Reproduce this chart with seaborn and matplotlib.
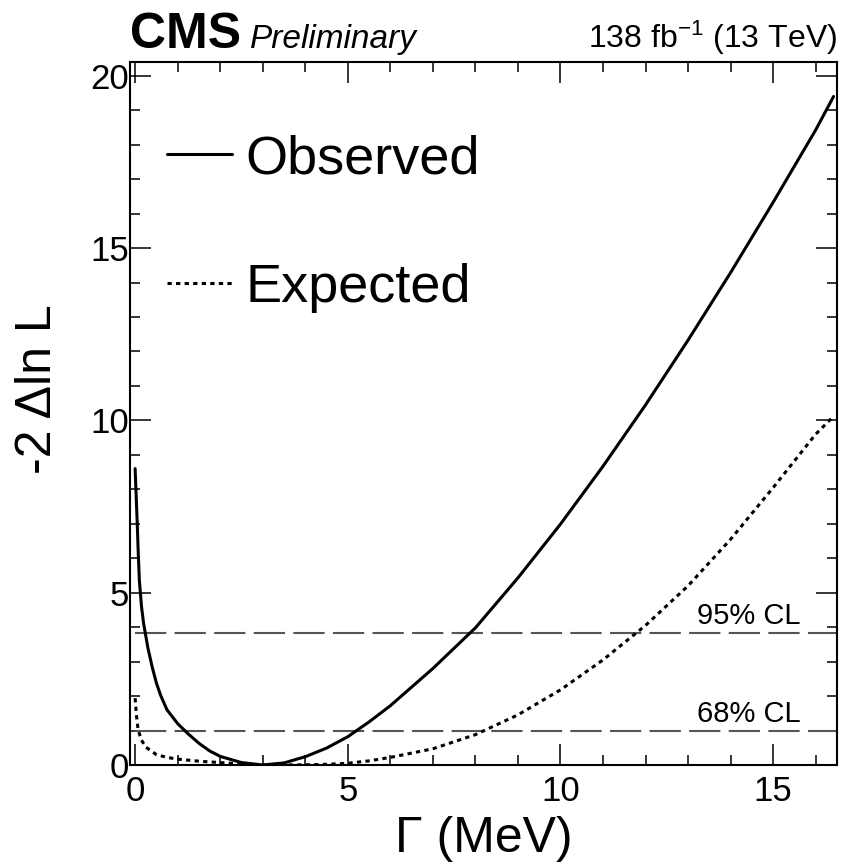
import matplotlib
matplotlib.use("Agg")
import matplotlib.pyplot as plt
import seaborn as sns
import pandas as pd
from matplotlib.ticker import MultipleLocator

# ---- data ----
obs_x = [0.0, 0.025, 0.05, 0.075, 0.1, 0.15, 0.2, 0.3, 0.4, 0.5, 0.6, 0.75, 1.0,
         1.25, 1.5, 1.75, 2.0, 2.5, 3.0, 3.5, 4.0, 4.5, 5.0, 5.5, 6.0, 7.0, 8.0,
         9.0, 10.0, 11.0, 12.0, 13.0, 14.0, 15.0, 16.0, 16.42]
obs_y = [8.6, 7.8, 7.0, 6.1, 5.35, 4.6, 4.1, 3.4, 2.85, 2.38, 2.02, 1.6, 1.2,
         0.9, 0.63, 0.41, 0.25, 0.07, 0.0, 0.06, 0.24, 0.49, 0.82, 1.25, 1.72,
         2.80, 3.98, 5.43, 6.99, 8.67, 10.45, 12.33, 14.29, 16.33, 18.43, 19.4]

exp_x = [0.0, 0.03, 0.07, 0.15, 0.25, 0.5, 0.75, 1.0, 1.5, 2.0, 2.5, 3.0, 3.5, 4.0,
         4.5, 5.0, 5.5, 6.0, 7.0, 8.0, 9.0, 10.0, 11.0, 12.0, 13.0, 14.0, 15.0,
         16.0, 16.42]
exp_y = [1.94, 1.45, 1.02, 0.72, 0.52, 0.3, 0.22, 0.17, 0.11, 0.07, 0.03, 0.0, 0.0,
         0.005, 0.02, 0.05, 0.12, 0.22, 0.47, 0.88, 1.455, 2.18, 3.05, 4.05, 5.2,
         6.55, 8.05, 9.6, 10.12]

cl_levels = [1.0, 3.84]
cl_labels = ["68% CL", "95% CL"]
x_range = [0.0, 16.5]

FONT = ["Liberation Sans", "DejaVu Sans"]

sns.set_theme(style="ticks")
plt.rcParams["font.family"] = FONT
plt.rcParams["mathtext.default"] = "regular"
for k in ["text.color", "axes.labelcolor", "xtick.color", "ytick.color",
          "axes.edgecolor"]:
    plt.rcParams[k] = "black"

fig = plt.figure(figsize=(8.41, 8.64), dpi=100)
ax = fig.add_axes([0.1546, 0.1146, 0.8406, 0.8136])

obs = pd.DataFrame({"x": obs_x, "y": obs_y})
exp = pd.DataFrame({"x": exp_x, "y": exp_y})

sns.lineplot(data=obs, x="x", y="y", ax=ax, color="black", lw=2.2,
             label="Observed", sort=False)
sns.lineplot(data=exp, x="x", y="y", ax=ax, color="black", lw=2.2,
             linestyle=(0, (1.4, 1.4)), label="Expected", sort=False)

for lvl, lab in zip(cl_levels, cl_labels):
    ax.plot(x_range, [lvl, lvl], color="#555555", lw=1.5,
            linestyle=(0, (15, 4)), zorder=1)
    ax.text(15.64, lvl + 0.25, lab, ha="right", va="baseline", fontsize=21,
            color="black")

ax.set_xlim(-0.12, 16.5)
ax.set_ylim(0, 20.4)

ax.xaxis.set_major_locator(MultipleLocator(5))
ax.xaxis.set_minor_locator(MultipleLocator(1))
ax.yaxis.set_major_locator(MultipleLocator(5))
ax.yaxis.set_minor_locator(MultipleLocator(1))
ax.tick_params(which="both", direction="in", top=True, right=True,
               width=1.1, color="black", labelsize=25, labelcolor="black")
ax.tick_params(which="major", length=15)
ax.tick_params(which="minor", length=7.5)
ax.tick_params(axis="x", which="major", pad=7)
ax.tick_params(axis="y", which="major", pad=1)
for s in ax.spines.values():
    s.set_linewidth(1.5)
    s.set_color("black")

ax.set_xlabel("Γ (MeV)", fontsize=36, labelpad=6)
ax.set_ylabel("-2 Δln L", fontsize=36)
ax.yaxis.set_label_coords(-0.098, 0.535)

leg = ax.legend(loc="upper left", bbox_to_anchor=(0.022, 0.928), frameon=False,
                fontsize=39, handlelength=1.2, handletextpad=0.25,
                labelspacing=1.45, borderaxespad=0)
for t in leg.get_texts():
    t.set_color("black")

fig.text(0.1546, 0.944, "CMS", fontsize=36, fontweight="bold", ha="left",
         va="baseline")
fig.text(0.297, 0.944, "Preliminary", fontsize=24, style="italic", ha="left",
         va="baseline")
fig.text(0.995, 0.944, "138 fb$^{-1}$ (13 TeV)", fontsize=23, ha="right",
         va="baseline")

fig.savefig("out.png", dpi=100, facecolor="white")
